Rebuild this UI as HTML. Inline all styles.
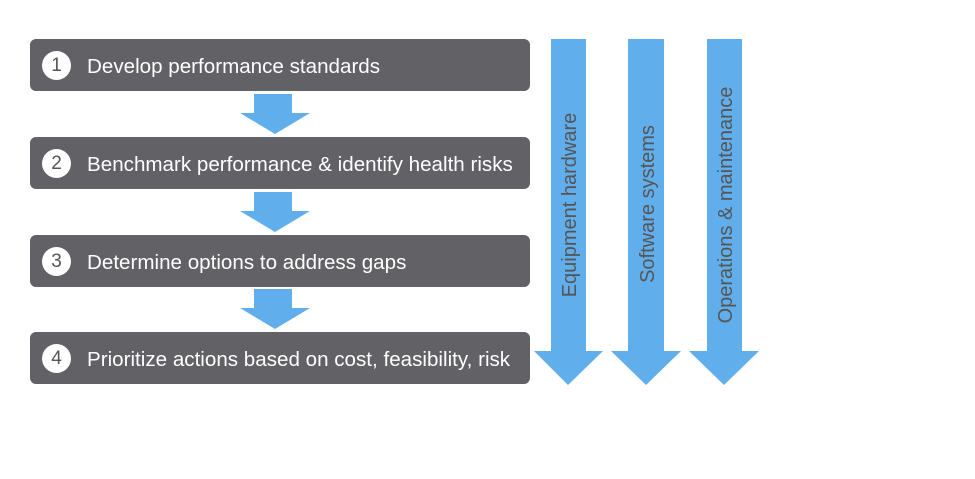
<!DOCTYPE html>
<html><head><style>
body{margin:0;width:975px;height:479px;background:#fff;overflow:hidden;font-family:"Liberation Sans",sans-serif}
.b{position:absolute;left:30px;width:500px;height:52px;background:#616166;border-radius:6px;color:#fff;font-size:20.6px}
.b .c{position:absolute;left:12px;top:12px;width:29px;height:29px;border-radius:50%;background:#fff;color:#555;text-align:center;line-height:29px;font-size:19px}
.b .t{position:absolute;left:57px;top:2px;line-height:52px}
svg{position:absolute;left:0;top:0}
</style></head><body>
<svg width="975" height="479">
<g fill="#61aeec">
<polygon points="254,94 292,94 292,113 310,113 275,134 240,113 254,113"/>
<polygon points="254,192 292,192 292,211 310,211 275,232 240,211 254,211"/>
<polygon points="254,289 292,289 292,308 310,308 275,329 240,308 254,308"/>
<polygon points="551,39 586,39 586,351 603,351 568,385 534,351 551,351"/>
<polygon points="628,39 664,39 664,351 681,351 646,385 611,351 628,351"/>
<polygon points="707,39 742,39 742,351 759,351 724,385 689,351 707,351"/>
</g>
<g fill="#555" font-family="Liberation Sans, sans-serif" font-size="20" text-anchor="middle">
<text transform="translate(576,205) rotate(-90)">Equipment hardware</text>
<text transform="translate(654,204) rotate(-90)">Software systems</text>
<text transform="translate(732,205) rotate(-90)">Operations &amp; maintenance</text>
</g>
</svg>
<div class="b" style="top:39px"><div class="c">1</div><div class="t">Develop performance standards</div></div>
<div class="b" style="top:137px"><div class="c">2</div><div class="t">Benchmark performance &amp; identify health risks</div></div>
<div class="b" style="top:235px"><div class="c">3</div><div class="t">Determine options to address gaps</div></div>
<div class="b" style="top:332px"><div class="c">4</div><div class="t">Prioritize actions based on cost, feasibility, risk</div></div>
</body></html>
